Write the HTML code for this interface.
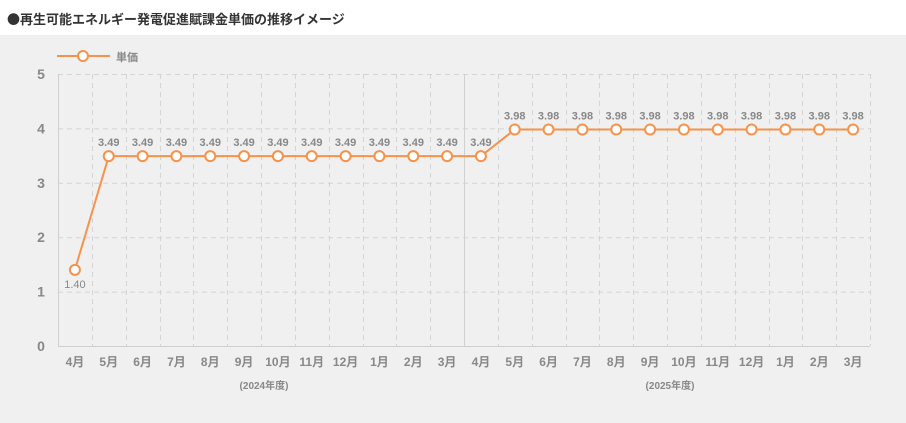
<!DOCTYPE html>
<html><head><meta charset="utf-8"><style>
html,body{margin:0;padding:0;background:#fff;}
body{width:906px;height:423px;overflow:hidden;position:relative;font-family:"Liberation Sans","Noto Sans CJK JP",sans-serif;}
svg{position:absolute;left:0;top:0;}
</style></head><body>
<svg width="906" height="423" viewBox="0 0 906 423" xmlns="http://www.w3.org/2000/svg" font-family="Liberation Sans, Noto Sans CJK JP, sans-serif">
<rect x="0" y="0" width="906" height="35" fill="#ffffff"/>
<rect x="0" y="35" width="906" height="388" fill="#f0f0f0"/>
<text x="7" y="24" font-size="13" font-weight="bold" fill="#333"><tspan font-family="Noto Sans CJK JP, sans-serif">●</tspan>再生可能エネルギー発電促進賦課金単価の推移イメージ</text>
<!-- legend -->
<line x1="57" y1="56" x2="110" y2="56" stroke="#f7924a" stroke-width="2"/>
<circle cx="83" cy="56" r="5" fill="#fff" stroke="#f7924a" stroke-width="2"/>
<text x="116" y="61" font-size="11" font-weight="bold" fill="#888">単価</text>
<g id="grid" stroke="#d4d4d4" stroke-width="1" fill="none"></g>
<g id="labels"></g>
<g id="series"></g>
</svg>
<script>
(function(){
var NS="http://www.w3.org/2000/svg";
var L=58,R=870,T=74,B=346;
var cw=(R-L)/24;
function y(v){return B-(B-T)*v/5;}
function el(tag,attrs,parent,txt){var e=document.createElementNS(NS,tag);for(var k in attrs)e.setAttribute(k,attrs[k]);if(txt!==undefined)e.textContent=txt;parent.appendChild(e);return e;}
var g=document.getElementById('grid');
var lb=document.getElementById('labels');
var s=document.getElementById('series');
for(var v=1;v<=5;v++){el('line',{x1:L,y1:y(v)+0.5,x2:R,y2:y(v)+0.5,'stroke-dasharray':'5,4'},g);}
for(var k=1;k<=24;k++){var x=Math.round(L+cw*k)+0.5;
 if(k==12){el('line',{x1:x,y1:T,x2:x,y2:B,stroke:'#d0d0d0'},g);}
 else el('line',{x1:x,y1:T,x2:x,y2:B,'stroke-dasharray':'5,4'},g);}
el('line',{x1:L+0.5,y1:T,x2:L+0.5,y2:B,stroke:'#cfcfcf'},g);
el('line',{x1:L,y1:B+0.5,x2:R,y2:B+0.5,stroke:'#cfcfcf'},g);
for(var v=0;v<=5;v++){el('text',{x:41,y:y(v)+5,'font-size':14,'font-weight':'bold',fill:'#888','text-anchor':'middle'},lb,String(v));}
var months=['4月','5月','6月','7月','8月','9月','10月','11月','12月','1月','2月','3月'];
for(var i=0;i<24;i++){var cx=L+cw*(i+0.5);
 el('text',{x:cx,y:366,'font-size':12,'font-weight':'bold',fill:'#888','text-anchor':'middle'},lb,months[i%12]);}
el('text',{x:264,y:389,'font-size':10,'font-weight':'bold',fill:'#888','text-anchor':'middle'},lb,'(2024年度)');
el('text',{x:670,y:389,'font-size':10,'font-weight':'bold',fill:'#888','text-anchor':'middle'},lb,'(2025年度)');
var data=[1.40];for(var i=1;i<13;i++)data.push(3.49);for(var i=13;i<24;i++)data.push(3.98);
var pts=[];for(var i=0;i<24;i++){pts.push((L+cw*(i+0.5)).toFixed(1)+','+y(data[i]).toFixed(1));}
el('polyline',{points:pts.join(' '),fill:'none',stroke:'#f7924a','stroke-width':2},s);
for(var i=0;i<24;i++){var cx=L+cw*(i+0.5),cy=y(data[i]);
 el('circle',{cx:cx,cy:cy,r:5,fill:'#fff',stroke:'#f7924a','stroke-width':2},s);
 if(i==0) el('text',{x:cx,y:cy+18,'font-size':11,fill:'#888','text-anchor':'middle'},s,'1.40');
 else el('text',{x:cx,y:cy-10,'font-size':11,'font-weight':'bold',fill:'#888','text-anchor':'middle'},s,data[i].toFixed(2));}
})();
</script>
</body></html>
